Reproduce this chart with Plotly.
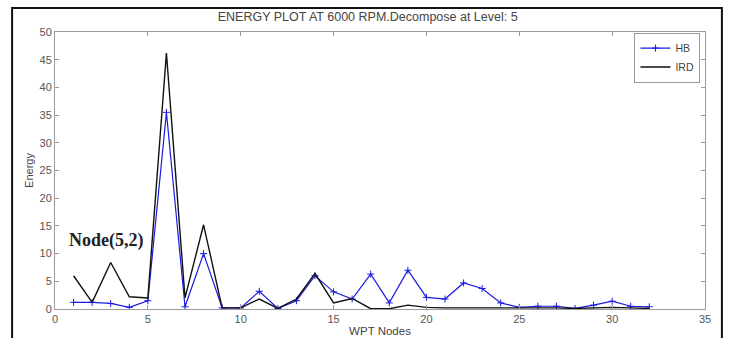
import plotly.graph_objects as go

# WPT node index (level-5 decomposition -> 32 nodes)
nodes = list(range(1, 33))

# Energy per node
hb_energy = [1.2, 1.2, 1.0, 0.3, 1.5, 35.5, 0.4, 10.0, 0.2, 0.2,
             3.2, 0.1, 1.5, 6.0, 3.1, 1.8, 6.3, 1.1, 7.0, 2.1,
             1.8, 4.7, 3.7, 1.1, 0.3, 0.5, 0.5, 0.1, 0.7, 1.4,
             0.5, 0.4]
ird_energy = [6.0, 1.2, 8.4, 2.2, 2.0, 46.2, 2.0, 15.2, 0.2, 0.2,
              1.8, 0.1, 1.8, 6.4, 1.1, 1.9, 0.05, 0.05, 0.7, 0.3,
              0.2, 0.2, 0.3, 0.2, 0.2, 0.3, 0.2, 0.1, 0.2, 0.3,
              0.2, 0.1]

x_ticks = [0, 5, 10, 15, 20, 25, 30, 35]
y_ticks = [0, 5, 10, 15, 20, 25, 30, 35, 40, 45, 50]

fig = go.Figure()
fig.add_trace(go.Scatter(
    x=nodes, y=hb_energy, name="HB", mode="lines+markers",
    line=dict(color="#1a1ae6", width=1.2),
    marker=dict(symbol="cross-thin", size=5, line=dict(color="#1a1ae6", width=1)),
))
fig.add_trace(go.Scatter(
    x=nodes, y=ird_energy, name="IRD", mode="lines",
    line=dict(color="#111111", width=1.4),
))

axis_common = dict(
    showline=True, linecolor="#9a9a9a", linewidth=1, mirror="ticks",
    ticks="inside", ticklen=4, tickcolor="#9a9a9a",
    showgrid=False, zeroline=False, automargin=False,
    tickfont=dict(family="Liberation Sans, Arial", size=11, color="#555555"),
)

fig.update_xaxes(range=[0, 35], tickvals=x_ticks,
                 title=dict(text="WPT Nodes", standoff=2,
                            font=dict(family="Liberation Sans, Arial", size=11.5, color="#444444")),
                 **axis_common)
fig.update_yaxes(range=[0, 50], tickvals=y_ticks,
                 title=dict(text="Energy", standoff=3,
                            font=dict(family="Liberation Sans, Arial", size=11, color="#444444")),
                 **axis_common)

fig.add_annotation(
    x=0.65, y=12.3, xref="x", yref="y", xanchor="left", yanchor="middle",
    text="<b>Node(5,2)</b>", showarrow=False,
    font=dict(family="Liberation Serif, Times New Roman", size=18, color="#222222"),
)

# outer frame around the whole figure
fig.add_shape(type="rect", xref="paper", yref="paper",
              x0=-0.066, x1=1.026, y0=-0.2, y1=1.087,
              line=dict(color="#111111", width=2), layer="above")

fig.update_layout(
    width=731, height=338,
    margin=dict(l=55, r=26, t=32, b=29),
    paper_bgcolor="white", plot_bgcolor="white",
    title=dict(text="ENERGY PLOT AT 6000 RPM.Decompose at Level: 5",
               x=0.503, xanchor="center", y=0.952, yanchor="middle",
               font=dict(family="Liberation Sans, Arial", size=12.5, color="#444444")),
    legend=dict(x=0.993, y=0.998, xanchor="right", yanchor="top",
                bgcolor="white", bordercolor="#9a9a9a", borderwidth=1,
                font=dict(family="Liberation Sans, Arial", size=10.5, color="#444444"),
                tracegroupgap=0, itemwidth=30),
    showlegend=True,
)

fig.write_html("out.html")
